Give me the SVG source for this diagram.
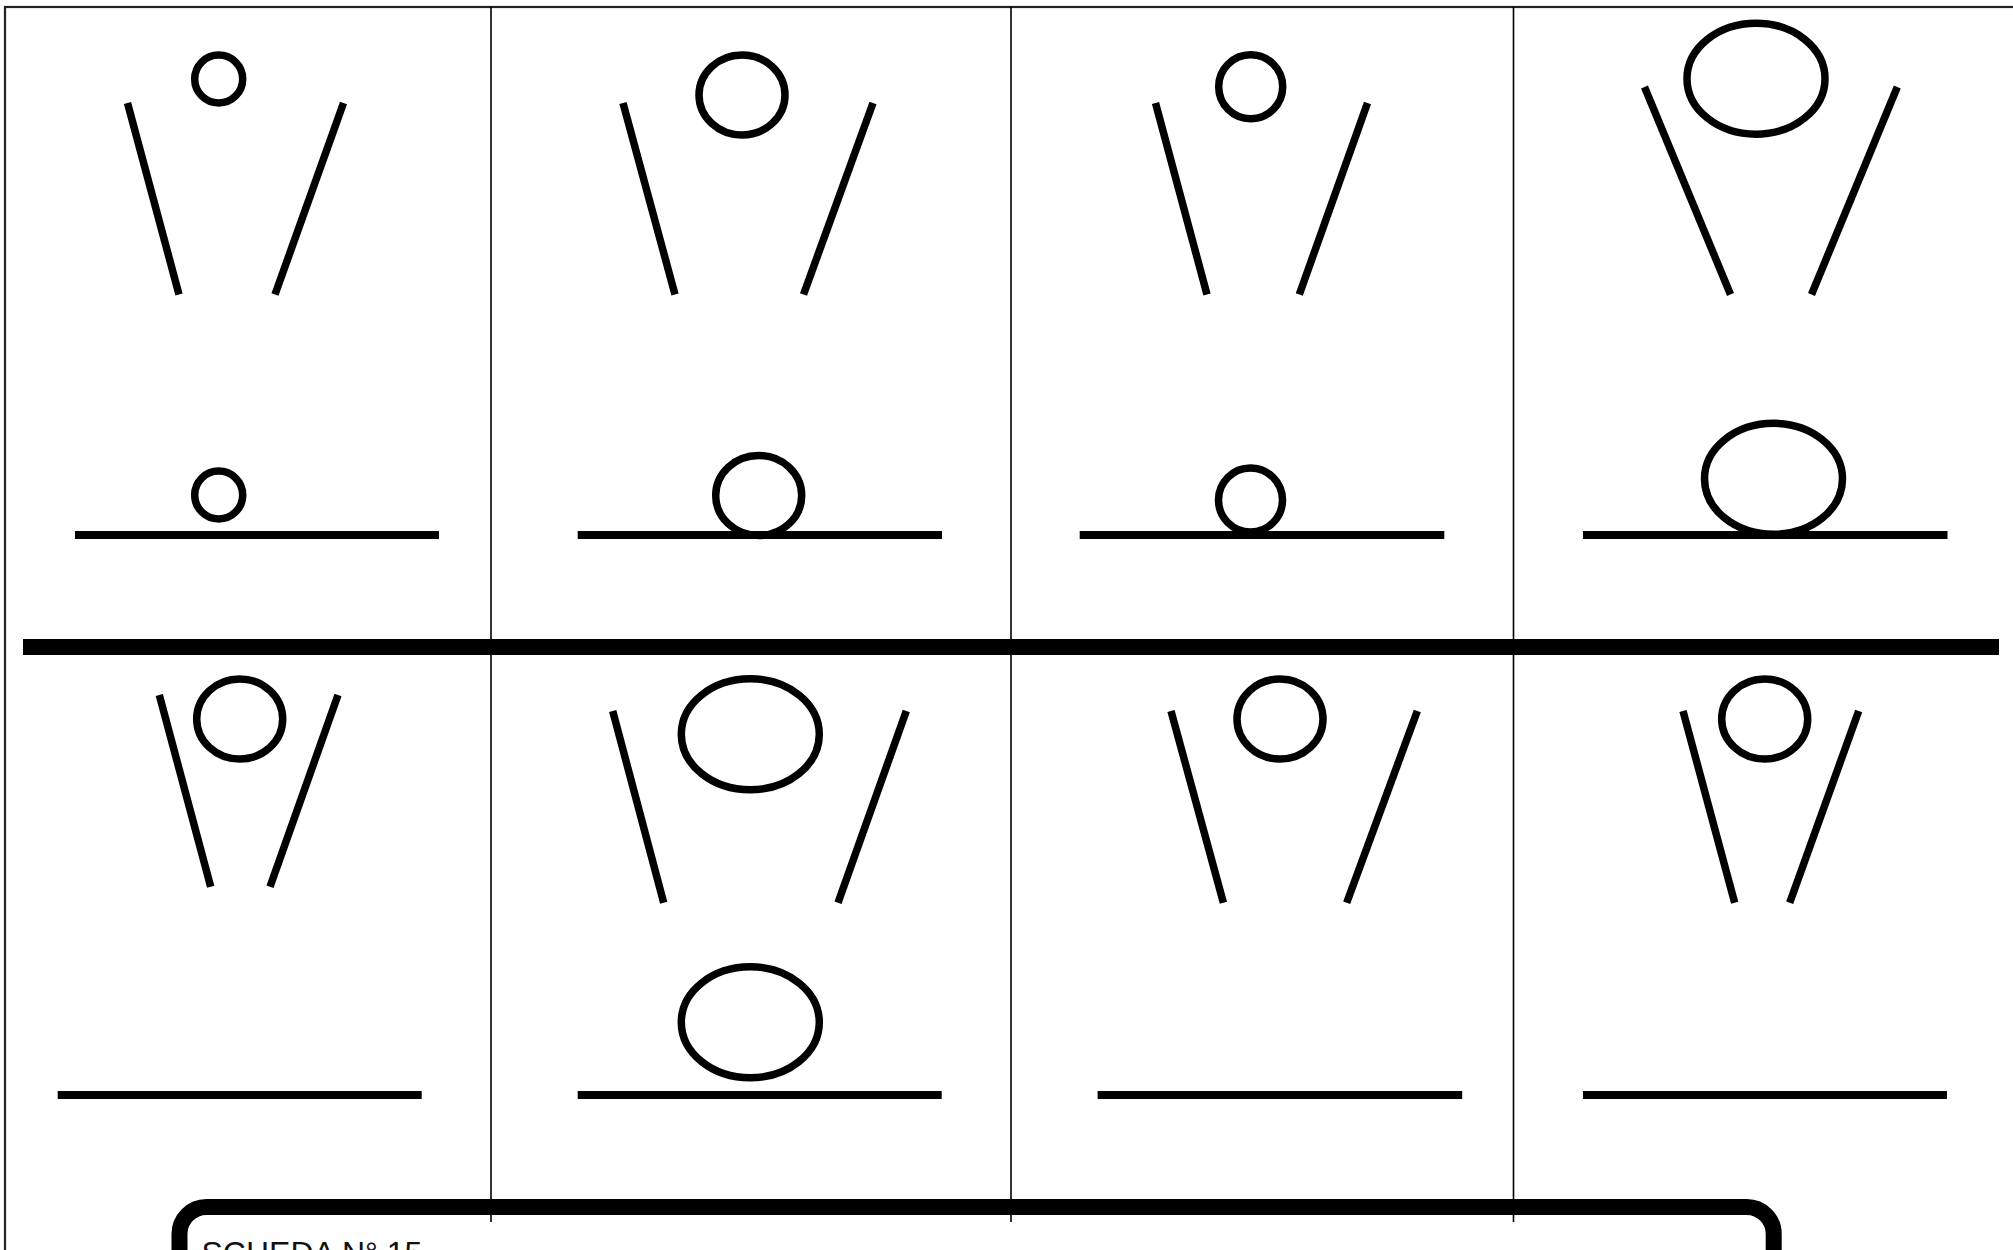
<svg xmlns="http://www.w3.org/2000/svg" width="2013" height="1250" viewBox="0 0 2013 1250">
  <style>
    .s { fill: none; stroke: #000; stroke-width: 7.5; stroke-linecap: butt; }
    .base { stroke: #000; stroke-width: 8; stroke-linecap: butt; }
    .div { stroke: #000; stroke-width: 1.6; }
    .frame { fill: none; stroke: #222; stroke-width: 2.2; }
    .card { fill: none; stroke: #000; stroke-width: 16; }
    .title { font-family: "Liberation Sans", Arial, sans-serif; font-size: 32px; fill: #111; }
  </style>
  <rect width="2013" height="1250" fill="#fff"/>

  <g id="grid">
    <rect class="frame" x="5" y="7" width="2030" height="1270"/>
    <line class="div" x1="491" y1="7" x2="491" y2="1222"/>
    <line class="div" x1="1011" y1="7" x2="1011" y2="1222"/>
    <line class="div" x1="1513.5" y1="7" x2="1513.5" y2="1222"/>
    <rect x="23" y="639" width="1976" height="16" fill="#000"/>
  </g>

  <!-- Top row -->
  <g id="cell-1-top">
    <circle class="s" cx="218.7" cy="79" r="24"/>
    <line class="s" x1="127.5" y1="103" x2="179" y2="294.5"/>
    <line class="s" x1="343.5" y1="103" x2="275" y2="294.5"/>
  </g>
  <g id="cell-1-bottom">
    <circle class="s" cx="218.7" cy="495" r="24"/>
    <line class="base" x1="75" y1="535" x2="439" y2="535"/>
  </g>

  <g id="cell-2-top">
    <ellipse class="s" cx="742" cy="95" rx="43" ry="40"/>
    <line class="s" x1="623" y1="103" x2="675" y2="294.5"/>
    <line class="s" x1="873" y1="103" x2="803.5" y2="294.5"/>
  </g>
  <g id="cell-2-bottom">
    <ellipse class="s" cx="758.7" cy="495.5" rx="43" ry="40"/>
    <line class="base" x1="577.7" y1="535" x2="942" y2="535"/>
  </g>

  <g id="cell-3-top">
    <circle class="s" cx="1250.7" cy="86.7" r="32"/>
    <line class="s" x1="1155.5" y1="103" x2="1207" y2="294.5"/>
    <line class="s" x1="1367.5" y1="103" x2="1299.3" y2="294.5"/>
  </g>
  <g id="cell-3-bottom">
    <circle class="s" cx="1250.5" cy="500" r="32"/>
    <line class="base" x1="1079.7" y1="535" x2="1444.3" y2="535"/>
  </g>

  <g id="cell-4-top">
    <ellipse class="s" cx="1756" cy="78.7" rx="69" ry="55.5"/>
    <line class="s" x1="1644.5" y1="87" x2="1730.5" y2="294.5"/>
    <line class="s" x1="1897.3" y1="87" x2="1811.5" y2="294.5"/>
  </g>
  <g id="cell-4-bottom">
    <ellipse class="s" cx="1773.5" cy="478.8" rx="69" ry="55.5"/>
    <line class="base" x1="1583" y1="535" x2="1947.5" y2="535"/>
  </g>

  <!-- Bottom row -->
  <g id="cell-5">
    <ellipse class="s" cx="239.7" cy="719" rx="43" ry="40"/>
    <line class="s" x1="159.3" y1="695" x2="210.7" y2="886.7"/>
    <line class="s" x1="338" y1="695" x2="270" y2="886.7"/>
    <line class="base" x1="57.7" y1="1095" x2="421.7" y2="1095"/>
  </g>

  <g id="cell-6">
    <ellipse class="s" cx="750.3" cy="734.3" rx="69" ry="55.5"/>
    <line class="s" x1="612.7" y1="711" x2="663.7" y2="902.7"/>
    <line class="s" x1="906.3" y1="711" x2="838" y2="902.7"/>
    <ellipse class="s" cx="750.3" cy="1022.3" rx="69" ry="55.5"/>
    <line class="base" x1="577.7" y1="1095" x2="941.7" y2="1095"/>
  </g>

  <g id="cell-7">
    <ellipse class="s" cx="1280" cy="719" rx="43" ry="40"/>
    <line class="s" x1="1171" y1="711" x2="1223.4" y2="902.7"/>
    <line class="s" x1="1417.3" y1="711" x2="1346.7" y2="902.7"/>
    <line class="base" x1="1097.6" y1="1095" x2="1462.2" y2="1095"/>
  </g>

  <g id="cell-8">
    <ellipse class="s" cx="1764.7" cy="719" rx="43" ry="40"/>
    <line class="s" x1="1683" y1="711" x2="1734.7" y2="902.7"/>
    <line class="s" x1="1858.7" y1="711" x2="1789.7" y2="902.7"/>
    <line class="base" x1="1583" y1="1095" x2="1947" y2="1095"/>
  </g>

  <g id="title-card">
    <rect class="card" x="179.5" y="1207" width="1594.2" height="120" rx="27" ry="27"/>
    <text class="title" x="201.5" y="1263.5">SCHEDA N° 15</text>
  </g>
</svg>
